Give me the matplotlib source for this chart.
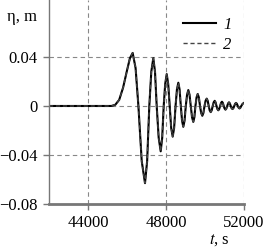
import matplotlib
matplotlib.use("Agg")
from matplotlib import pyplot as plt

# time, s
t = [42000, 45200, 45400, 45600, 45800, 46000, 46150, 46290, 46440, 46585,
     46755, 46923, 47033, 47144, 47246, 47349, 47436, 47523, 47625, 47728,
     47805, 47882, 47959, 48036, 48113, 48190, 48266, 48343, 48416, 48490,
     48561, 48632, 48696, 48760, 48823, 48887, 48951, 49015, 49080, 49144,
     49207, 49270, 49335, 49400, 49455, 49510, 49567, 49625, 49685, 49745,
     49803, 49862, 49918, 49975, 50031, 50087, 50138, 50190, 50241, 50292,
     50343, 50395, 50446, 50497, 50543, 50590, 50636, 50682, 50728, 50775,
     50822, 50870, 50915, 50960, 51005, 51050, 51095, 51140, 51185, 51230,
     51275, 51320, 51365, 51410, 51455, 51500, 51545, 51590, 51635, 51680,
     51725, 51770, 51815, 51860, 51930, 52000]
# free surface elevation, m (curve 1)
eta_1 = [0, 0, 0.001, 0.005, 0.015, 0.029, 0.039, 0.0433, 0.031, 0,
         -0.045, -0.063, -0.045, 0, 0.028, 0.039, 0.028, 0, -0.026, -0.037,
         -0.026, 0, 0.018, 0.026, 0.018, 0, -0.018, -0.025, -0.018, 0,
         0.0135, 0.019, 0.0135, 0, -0.012, -0.017, -0.012, 0, 0.0092, 0.013,
         0.0092, 0, -0.0092, -0.013, -0.0092, 0, 0.007, 0.0098, 0.007, 0,
         -0.0057, -0.008, -0.0057, 0, 0.0043, 0.006, 0.0043, 0, -0.0036, -0.005,
         -0.0036, 0, 0.003, 0.0042, 0.003, 0, -0.0025, -0.0035, -0.0025, 0,
         0.0025, 0.0035, 0.0025, 0, -0.0021, -0.003, -0.0021, 0, 0.0021, 0.003,
         0.0021, 0, -0.0018, -0.0025, -0.0018, 0, 0.0018, 0.0025, 0.0018, 0,
         -0.0014, -0.002, -0.0014, 0, 0.0018, 0.0025]
# curve 2 lies on top of curve 1
eta_2 = list(eta_1)

x_ticks = [44000, 48000, 52000]
y_ticks = [-0.08, -0.04, 0, 0.04]
y_labels = ["\u22120.08", "\u22120.04", "0", "0.04"]

plt.rcParams['font.family'] = ['Liberation Serif', 'DejaVu Serif']
plt.rcParams['font.size'] = 12

fig = plt.figure(figsize=(2.66, 2.47), dpi=100)
ax = fig.add_axes([49 / 266, 1 - 204 / 247, 195 / 266, 204 / 247])

ax.plot(t, eta_1, color='black', lw=1.5, label='1')
ax.plot(t, eta_2, color='#444444', lw=1.0, ls=(0, (3, 2)), label='2')

ax.set_xlim(42000, 52000)
ax.set_ylim(-0.08, 0.0865)
ax.set_xticks(x_ticks)
ax.set_yticks(y_ticks)
ax.set_yticklabels(y_labels)
ax.grid(True, color='#888888', lw=0.8, ls=(0, (4, 3)))
ax.set_axisbelow(True)

for s in ['top', 'right']:
    ax.spines[s].set_visible(False)
ax.spines['left'].set_color('#777777')
ax.spines['left'].set_linewidth(1.0)
ax.spines['bottom'].set_color('#777777')
ax.spines['bottom'].set_linewidth(2.0)
ax.tick_params(axis='both', color='#777777', length=4, width=1.0, pad=4,
               labelcolor='black')

leg = ax.legend(loc='upper left', bbox_to_anchor=(183 / 266, 1 - 17 / 247),
                bbox_transform=fig.transFigure, frameon=False,
                handlelength=2.0, handletextpad=0.4, labelspacing=0.25,
                borderpad=0, borderaxespad=0)
for txt in leg.get_texts():
    txt.set_fontstyle('italic')

fig.text(7 / 266, 1 - 17 / 247, "\u03b7, m", ha='left', va='center', fontsize=12)
fig.text(219 / 266, 1 - 240 / 247, "$t$, s", ha='center', va='center', fontsize=12,
         math_fontfamily='stix')

fig.savefig('out.png', dpi=100)
